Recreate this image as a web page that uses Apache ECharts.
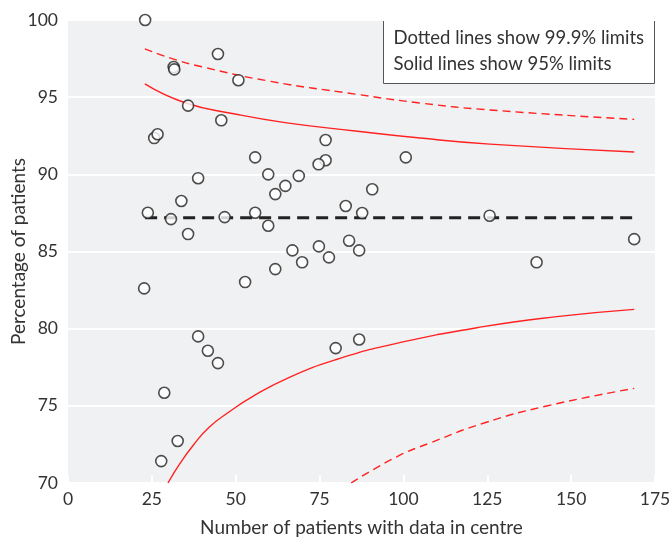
<!DOCTYPE html>
<html><head><meta charset="utf-8">
<script src="https://cdn.jsdelivr.net/npm/echarts@6/dist/echarts.min.js"></script>
<style>html,body{margin:0;padding:0;background:#fff}#c{width:669px;height:539px}</style>
</head><body><div id="c"></div>
<script>
var xTicks = [0, 25, 50, 75, 100, 125, 150, 175];
var yTicks = [70, 75, 80, 85, 90, 95, 100];
var centres = [
  [23, 100], [44.7, 97.8], [31.5, 96.95], [31.7, 96.8], [50.8, 96.1],
  [35.8, 94.45], [45.7, 93.5], [25.7, 92.35], [26.7, 92.6], [55.8, 91.1],
  [59.7, 90.0], [68.8, 89.9], [38.8, 89.75], [64.8, 89.25], [61.8, 88.72],
  [33.8, 88.27], [23.8, 87.51], [30.7, 87.1], [46.7, 87.23], [55.8, 87.51],
  [59.7, 86.67], [35.8, 86.13], [66.9, 85.07], [69.8, 84.3], [61.8, 83.86],
  [52.8, 83.02], [22.7, 82.61], [38.8, 79.5], [41.7, 78.57], [44.7, 77.77],
  [28.7, 75.85], [32.7, 72.72], [27.8, 71.42], [76.8, 92.22], [76.8, 90.91],
  [74.7, 90.65], [100.7, 91.1], [90.7, 89.03], [82.8, 87.95], [87.7, 87.49],
  [125.7, 87.32], [168.8, 85.8], [74.8, 85.33], [77.8, 84.62], [83.8, 85.7],
  [86.8, 85.07], [139.7, 84.3], [79.8, 78.74], [86.8, 79.3]
];
var meanLine = [[23, 87.19], [169, 87.19]];
var upper95 = [[22.9, 95.86], [34.9, 94.64], [49.8, 93.91], [64.7, 93.35], [85.6, 92.81], [105, 92.35], [125.8, 91.96], [168.8, 91.45]];
var lower95 = [[29.8, 70], [33.4, 71.27], [37.4, 72.46], [42, 73.6], [48, 74.6], [55, 75.6], [66, 76.85], [80, 78.0], [97, 79.0], [123.8, 80.13], [145.7, 80.78], [168.8, 81.25]];
var upper999 = [[22.9, 98.13], [31, 97.5], [39.9, 96.97], [59.7, 96.05], [85.6, 95.2], [105, 94.62], [125.8, 94.17], [168.8, 93.56]];
var lower999 = [[84.4, 70], [98, 71.7], [108, 72.6], [123.8, 73.87], [142.7, 74.99], [168.8, 76.13]];
var legendLines = ['Dotted lines show 99.9% limits', 'Solid lines show 95% limits'];

var FONT = 'Lato';
var chart = echarts.init(document.getElementById('c'), null, {renderer: 'canvas'});
function limitSeries(data, dashed) {
  return {type: 'line', data: data, smooth: 0.5, symbol: 'none', clip: true, z: 2,
    lineStyle: {color: '#f22', width: 1.4, type: dashed ? [8, 5] : 'solid'}};
}
chart.setOption({
  animation: false,
  textStyle: {fontFamily: FONT},
  grid: {left: 68, right: 14, top: 20, bottom: 56, show: true, backgroundColor: '#f0f1f3', borderWidth: 0,
    containLabel: false, outerBoundsMode: 'none'},
  xAxis: {type: 'value', min: xTicks[0], max: xTicks[xTicks.length - 1], interval: 25,
    name: 'Number of patients with data in centre', nameLocation: 'middle', nameGap: 35, nameMoveOverlap: false,
    nameTextStyle: {fontFamily: FONT, fontSize: 19, color: '#333'},
    axisLine: {show: false},
    axisTick: {show: true, inside: true, length: 8, lineStyle: {color: '#fff', width: 2}},
    axisLabel: {fontFamily: FONT, fontSize: 17.5, color: '#333', margin: 7},
    splitLine: {show: false}},
  yAxis: {type: 'value', min: yTicks[0], max: yTicks[yTicks.length - 1], interval: 5,
    name: 'Percentage of patients', nameLocation: 'middle', nameGap: 40, nameMoveOverlap: false,
    nameTextStyle: {fontFamily: FONT, fontSize: 19, color: '#333'},
    axisLine: {show: false}, axisTick: {show: false},
    axisLabel: {fontFamily: FONT, fontSize: 17.5, color: '#333', margin: 10},
    splitLine: {show: true, lineStyle: {color: '#fff', width: 2}}},
  graphic: [{type: 'group', left: 383, top: 19, z: 100, children: [
    {type: 'rect', shape: {x: 0, y: 0, width: 271, height: 64}, style: {fill: '#fff', stroke: '#555', lineWidth: 1}},
    {type: 'text', x: 10, y: 19, style: {text: legendLines[0], fontFamily: FONT, fontSize: 18.5, fill: '#333', verticalAlign: 'middle'}},
    {type: 'text', x: 10, y: 45, style: {text: legendLines[1], fontFamily: FONT, fontSize: 18.5, fill: '#333', verticalAlign: 'middle'}}
  ]}],
  series: [
    limitSeries(upper999, true), limitSeries(lower999, true),
    limitSeries(upper95, false), limitSeries(lower95, false),
    {type: 'line', data: meanLine, symbol: 'none', z: 3,
      lineStyle: {color: '#222', width: 3, type: [12, 7]}},
    {type: 'scatter', data: centres, symbol: 'circle', symbolSize: 11, clip: false, z: 5,
      itemStyle: {color: '#fff', borderColor: '#222', borderWidth: 1.6}}
  ]
});
</script></body></html>
